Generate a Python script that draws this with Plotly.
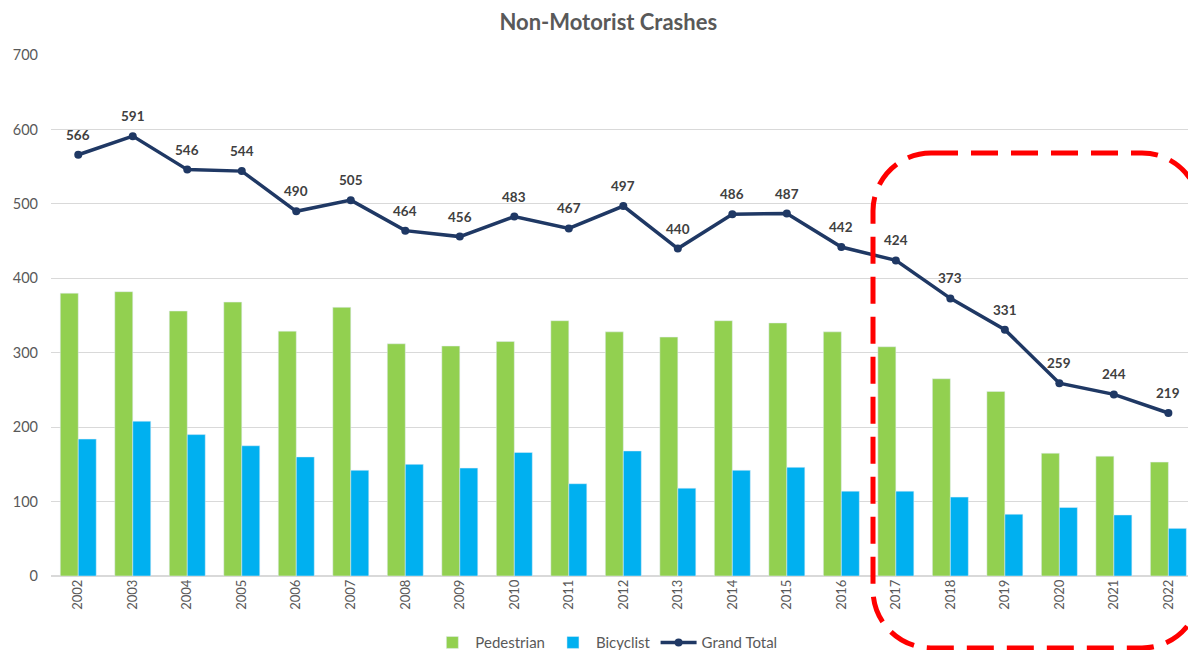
import plotly.graph_objects as go

years = [str(y) for y in range(2002, 2023)]
pedestrian = [380, 382, 356, 368, 329, 361, 312, 309, 315, 343, 328, 321, 343, 340, 328, 308, 265, 248, 165, 161, 153]
bicyclist = [184, 208, 190, 175, 160, 142, 150, 145, 166, 124, 168, 118, 142, 146, 114, 114, 106, 83, 92, 82, 64]
grand_total = [566, 591, 546, 544, 490, 505, 464, 456, 483, 467, 497, 440, 486, 487, 442, 424, 373, 331, 259, 244, 219]

W, H = 1188, 650
ML, MR, MT, MB = 51, 0, 55, 74
PW, PH = W - ML - MR, H - MT - MB

FONT = "Lato"
GREY = "#595959"

fig = go.Figure()
fig.add_trace(go.Bar(x=years, y=pedestrian, name="Pedestrian", marker_color="#92D050"))
fig.add_trace(go.Bar(x=years, y=bicyclist, name="Bicyclist", marker_color="#00B0F0"))
fig.add_trace(go.Scatter(
    x=years, y=grand_total, name="Grand Total", mode="lines+markers",
    line=dict(color="#1F3864", width=3.5), marker=dict(size=8, color="#1F3864"),
))
for i, v in enumerate(grand_total):
    fig.add_annotation(x=i, y=v, xref="x", yref="y", text="<b>%d</b>" % v, showarrow=False, yshift=20,
                       font=dict(family=FONT, size=13.5, color="#404040"))


def px2paper(x, y):
    return (x - ML) / PW, (H - MB - y) / PH


# dashed rounded rectangle highlighting 2017-2022
left, right, top, bottom, r = 873, 1200, 153, 648, 58
k = 0.45
pts = [
    ("M", [(left + r, top)]),
    ("L", [(right - r, top)]),
    ("C", [(right - r * k, top), (right, top + r * k), (right, top + r)]),
    ("L", [(right, bottom - r)]),
    ("C", [(right, bottom - r * k), (right - r * k, bottom), (right - r, bottom)]),
    ("L", [(left + r, bottom)]),
    ("C", [(left + r * k, bottom), (left, bottom - r * k), (left, bottom - r)]),
    ("L", [(left, top + r)]),
    ("C", [(left, top + r * k), (left + r * k, top), (left + r, top)]),
]
path = ""
for cmd, ps in pts:
    path += cmd + " " + " ".join("%.5f,%.5f" % px2paper(x, y) for x, y in ps) + " "
path += "Z"
fig.add_shape(type="path", xref="paper", yref="paper", path=path,
              line=dict(color="#FF0000", width=5, dash="27px,13px"), layer="above")

fig.update_layout(
    width=W, height=H,
    margin=dict(l=ML, r=MR, t=MT, b=MB, autoexpand=False),
    paper_bgcolor="white", plot_bgcolor="white",
    font=dict(family=FONT, color=GREY),
    title=dict(text="<b>Non-Motorist Crashes</b>", x=0.512, xanchor="center", y=0.966, yanchor="middle",
               font=dict(family=FONT, size=22, color=GREY)),
    barmode="group", bargap=0.34, bargroupgap=0,
    showlegend=True,
    legend=dict(orientation="h", x=0.488, xanchor="center", y=-0.128, yanchor="middle",
                itemwidth=36, font=dict(family=FONT, size=15, color=GREY), traceorder="normal"),
    xaxis=dict(type="category", range=[-0.5, 20.36], tickangle=-90,
               tickfont=dict(family=FONT, size=13, color=GREY),
               showgrid=False, showline=False, ticks="", automargin=False),
    yaxis=dict(range=[0, 700], dtick=100, gridcolor="#D9D9D9", gridwidth=1,
               zeroline=True, zerolinecolor="#D9D9D9", zerolinewidth=1.5, automargin=False,
               tickfont=dict(family=FONT, size=14.5, color=GREY), ticks="", ticklabelstandoff=12),
)

fig.write_html("out.html", config={"displayModeBar": False},
               post_script="document.body.style.margin='0';document.body.style.overflow='hidden';")
